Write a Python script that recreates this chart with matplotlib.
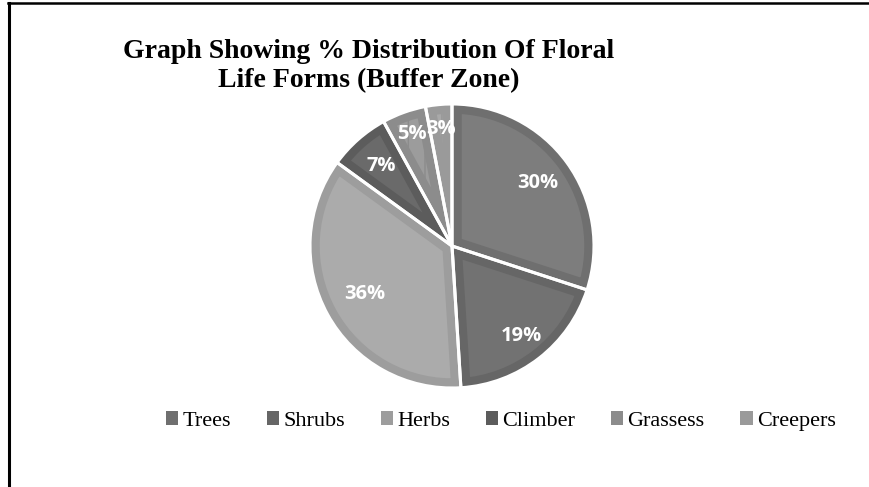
import numpy as np
import matplotlib.pyplot as plt
from matplotlib.lines import Line2D
from matplotlib.patches import Patch

# share of each life form (%), clockwise from 12 o'clock
life_forms = ['Trees', 'Shrubs', 'Herbs', 'Climber', 'Grassess', 'Creepers']
shares = [30, 19, 36, 7, 5, 3]

fill_colors = ['#7d7d7d', '#727272', '#ababab', '#6a6a6a', '#9c9c9c', '#a9a9a9']
rim_colors = ['#6f6f6f', '#666666', '#9d9d9d', '#5c5c5c', '#8c8c8c', '#9a9a9a']
hatches = [None, None, None, None, '|', '|']
label_dist = [0.75, 0.80, 0.70, 0.75, 0.84, 0.83]

W, H = 870, 487
fig = plt.figure(figsize=(W / 100, H / 100), dpi=100)
fig.patch.set_facecolor('white')

# pie centre and radius in pixels
cx, cy, r = 452, 246, 142
ax = fig.add_axes([(cx - r) / W, (H - cy - r) / H, 2 * r / W, 2 * r / H])

wedges, _ = ax.pie(shares, colors=fill_colors, startangle=90, counterclock=False,
                   radius=1, wedgeprops=dict(linewidth=0))
# darker inset rim on every slice (stroke clipped to the slice itself)
for w, rc, h in zip(wedges, rim_colors, hatches):
    w.set_edgecolor(rc)
    w.set_linewidth(14)
    w.set_hatch(h)
    w.set_clip_path(w)
    w.set_clip_on(True)
# white separators on top
ax.pie(shares, colors=['none'] * len(shares), startangle=90, counterclock=False,
       radius=1, wedgeprops=dict(linewidth=2.2, edgecolor='white', fill=False))

# percentage labels
angle = 90.0
for share, d in zip(shares, label_dist):
    mid = np.deg2rad(angle - share * 3.6 / 2)
    angle -= share * 3.6
    ax.text(d * np.cos(mid), d * np.sin(mid), f'{share}%', ha='center', va='center',
            color='white', fontsize=14.5, fontweight='bold', family='Open Sans')
ax.set_xlim(-1, 1)
ax.set_ylim(-1, 1)
ax.axis('off')

fig.text(369 / W, 1 - 66 / H, 'Graph Showing % Distribution Of Floral\nLife Forms (Buffer Zone)',
         ha='center', va='center', fontsize=20, fontweight='bold',
         family='Liberation Serif', linespacing=1.22)

handles = [Patch(facecolor=c, edgecolor='none') for c in rim_colors]
fig.legend(handles, life_forms, loc='center', bbox_to_anchor=(501 / W, 1 - 421 / H),
           ncol=6, frameon=False, prop={'family': 'Liberation Serif', 'size': 16},
           handlelength=0.55, handleheight=0.55, handletextpad=0.2, columnspacing=1.6)

# page frame: top and left edges only
fig.add_artist(Line2D([8 / W, 1], [1 - 2.5 / H, 1 - 2.5 / H], color='black', lw=1.8))
fig.add_artist(Line2D([9 / W, 9 / W], [0, 1 - 2.5 / H], color='black', lw=2.2))

fig.savefig('out.png', dpi=100)
